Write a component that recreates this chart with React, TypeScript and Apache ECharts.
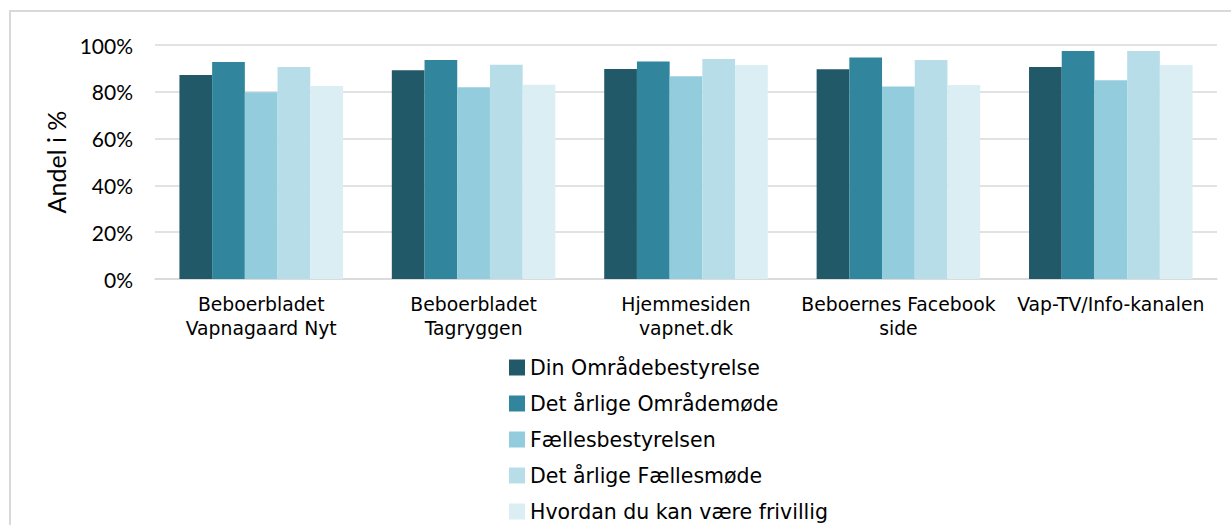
import React, { useEffect, useRef } from "react";
import * as echarts from "echarts";

const categories = [
  "Beboerbladet\nVapnagaard Nyt",
  "Beboerbladet\nTagryggen",
  "Hjemmesiden\nvapnet.dk",
  "Beboernes Facebook\nside",
  "Vap-TV/Info-kanalen",
];
const seriesNames = [
  "Din Områdebestyrelse",
  "Det årlige Områdemøde",
  "Fællesbestyrelsen",
  "Det årlige Fællesmøde",
  "Hvordan du kan være frivillig",
];
const dinOmraadebestyrelse = [87.2, 89.2, 89.7, 89.6, 90.6];
const aarligeOmraademoede = [92.7, 93.6, 93.0, 94.7, 97.4];
const faellesbestyrelsen = [79.8, 81.9, 86.6, 82.3, 84.9];
const aarligeFaellesmoede = [90.6, 91.6, 94.0, 93.6, 97.4];
const frivillig = [82.5, 83.0, 91.5, 82.9, 91.5];
const colors = ["#215968", "#31859C", "#93CDDD", "#B7DEE8", "#DAEEF3"];
const yTicks = [0, 20, 40, 60, 80, 100];

export default function App() {
  const ref = useRef<HTMLDivElement>(null);
  useEffect(() => {
    if (!ref.current) return;
    const chart = echarts.init(ref.current, undefined, { renderer: "svg" });
    const values = [
      dinOmraadebestyrelse,
      aarligeOmraademoede,
      faellesbestyrelsen,
      aarligeFaellesmoede,
      frivillig,
    ];
    chart.setOption({
      animation: false,
      backgroundColor: "#ffffff",
      color: colors,
      graphic: [
        {
          type: "rect",
          shape: { x: 10, y: 11, width: 1300, height: 600 },
          style: { fill: "none", stroke: "#d9d9d9", lineWidth: 2 },
          silent: true,
        },
      ],
      grid: { left: 155, right: 14, top: 45, bottom: 246 },
      legend: {
        orient: "vertical",
        left: 504,
        top: 352,
        height: 200,
        itemWidth: 16,
        itemHeight: 16,
        itemGap: 15,
        icon: "rect",
        data: seriesNames,
        textStyle: {
          fontFamily: "DejaVu Sans",
          fontSize: 20.5,
          lineHeight: 21,
          color: "#000",
        },
      },
      xAxis: {
        type: "category",
        data: categories,
        axisTick: { show: false },
        axisLine: { lineStyle: { color: "#d9d9d9", width: 1.5 } },
        axisLabel: {
          interval: 0,
          margin: 13,
          fontFamily: "DejaVu Sans",
          fontSize: 18.8,
          lineHeight: 24,
          color: "#000",
        },
      },
      yAxis: {
        type: "value",
        min: 0,
        max: yTicks[yTicks.length - 1],
        interval: 20,
        name: "Andel i %",
        nameLocation: "middle",
        nameGap: 86,
        nameTextStyle: {
          fontFamily: "Lato",
          fontSize: 25,
          color: "#000",
        },
        axisLine: { show: false },
        axisTick: { show: false },
        splitLine: { lineStyle: { color: "#d9d9d9", width: 1.5 } },
        axisLabel: {
          margin: 22,
          formatter: "{value}%",
          fontFamily: "Lato",
          fontSize: 21,
          color: "#000",
        },
      },
      series: seriesNames.map((name, i) => ({
        name,
        type: "bar",
        data: values[i],
        barGap: "0%",
        barCategoryGap: "23%",
        itemStyle: { color: colors[i] },
      })),
    });
    return () => chart.dispose();
  }, []);
  return (
    <div
      ref={ref}
      style={{ position: "fixed", left: 0, top: 0, width: 1231, height: 525 }}
    />
  );
}
